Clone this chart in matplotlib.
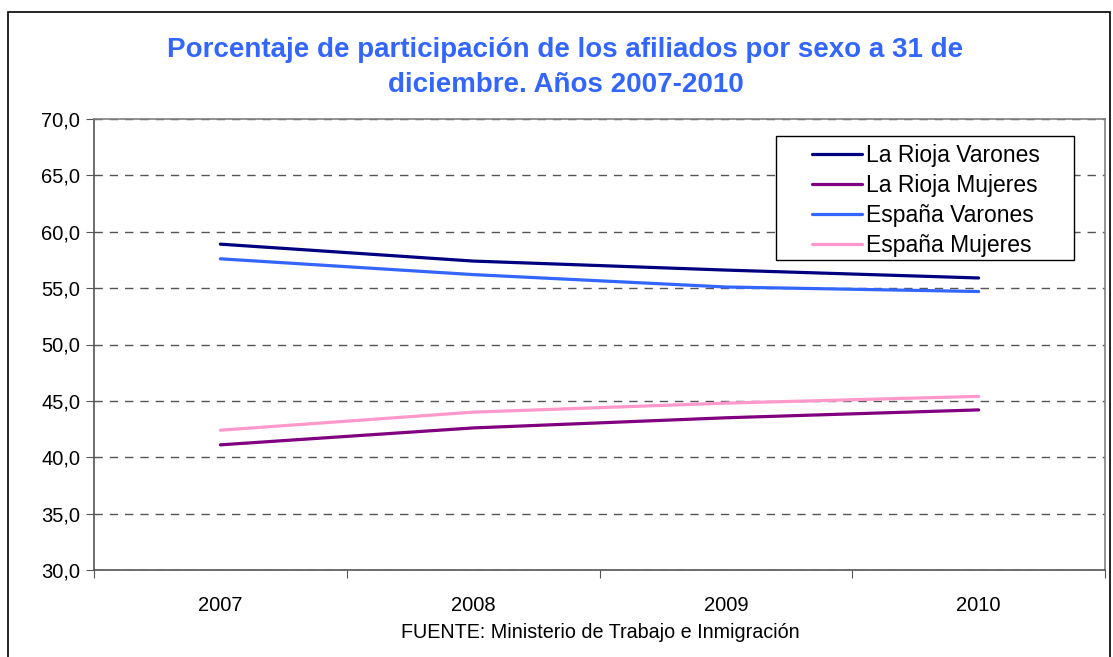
import matplotlib
matplotlib.use("Agg")
import matplotlib.pyplot as plt
from matplotlib.patches import Rectangle
from matplotlib.ticker import FuncFormatter

# datos
years = ["2007", "2008", "2009", "2010"]
rioja_varones = [58.9, 57.4, 56.6, 55.9]
rioja_mujeres = [41.1, 42.6, 43.5, 44.2]
espana_varones = [57.6, 56.2, 55.1, 54.7]
espana_mujeres = [42.4, 44.0, 44.8, 45.4]

series = [
    ("La Rioja Varones", rioja_varones, "#000080"),
    ("La Rioja Mujeres", rioja_mujeres, "#800080"),
    ("España Varones", espana_varones, "#3366FF"),
    ("España Mujeres", espana_mujeres, "#FF99CC"),
]

plt.rcParams["font.family"] = ["Liberation Sans", "DejaVu Sans"]

fig = plt.figure(figsize=(11.13, 6.57), dpi=100)
ax = fig.add_axes([94 / 1113, 1 - 570 / 657, (1105 - 94) / 1113, (570 - 119) / 657])

# borde del gráfico
fig.patches.append(Rectangle((8 / 1113, -0.05), (1110 - 8) / 1113, 1.05 - 12 / 657,
                             transform=fig.transFigure, fill=False,
                             edgecolor="#000000", linewidth=1.2))

x = list(range(len(years)))
for name, vals, color in series:
    ax.plot(x, vals, color=color, linewidth=2.3, label=name, solid_capstyle="round")

ax.set_ylim(30, 70)
ax.set_xlim(-0.5, 3.5)
ax.set_yticks(range(30, 71, 5))
ax.yaxis.set_major_formatter(FuncFormatter(lambda v, p: f"{v:.1f}".replace(".", ",")))
ax.set_xticks([i - 0.5 for i in range(len(years) + 1)])
ax.set_xticklabels([])
ax.set_xticks(x, minor=True)
ax.set_xticklabels(years, minor=True)
ax.tick_params(axis="x", which="minor", length=0, pad=19, labelsize=14.5)
ax.tick_params(axis="x", which="major", length=6, color="#555555", direction="out")
ax.tick_params(axis="y", length=6, color="#555555", labelsize=14.5, pad=4)

ax.grid(axis="y", linestyle=(0, (6, 5)), color="#555555", linewidth=1)
ax.set_axisbelow(True)
for s in ax.spines.values():
    s.set_color("#808080")
    s.set_linewidth(1.2)
ax.spines["left"].set_color("#555555")
ax.spines["bottom"].set_color("#555555")

# leyenda con marco propio (más margen a los lados)
ax.add_patch(Rectangle((0.6746, 0.6874), 0.2948, 0.2749, transform=ax.transAxes,
                       facecolor="white", edgecolor="#000000", linewidth=1, zorder=5))
leg = ax.legend(loc="upper left", bbox_to_anchor=(0.710, 0.9455), fontsize=16.5,
                frameon=False, handlelength=2.2, handletextpad=0.15,
                borderpad=0, labelspacing=0.31, borderaxespad=0)
leg.set_zorder(6)

fig.text(0.508, 1 - 67.5 / 657, "Porcentaje de participación de los afiliados por sexo a 31 de\ndiciembre. Años 2007-2010",
         ha="center", va="center", color="#3366FF", fontsize=20, fontweight="bold", linespacing=1.42)
fig.text(600 / 1113, 1 - 633 / 657, "FUENTE: Ministerio de Trabajo e Inmigración",
         ha="center", va="center", fontsize=14.2)

fig.savefig("out.png", dpi=100)
